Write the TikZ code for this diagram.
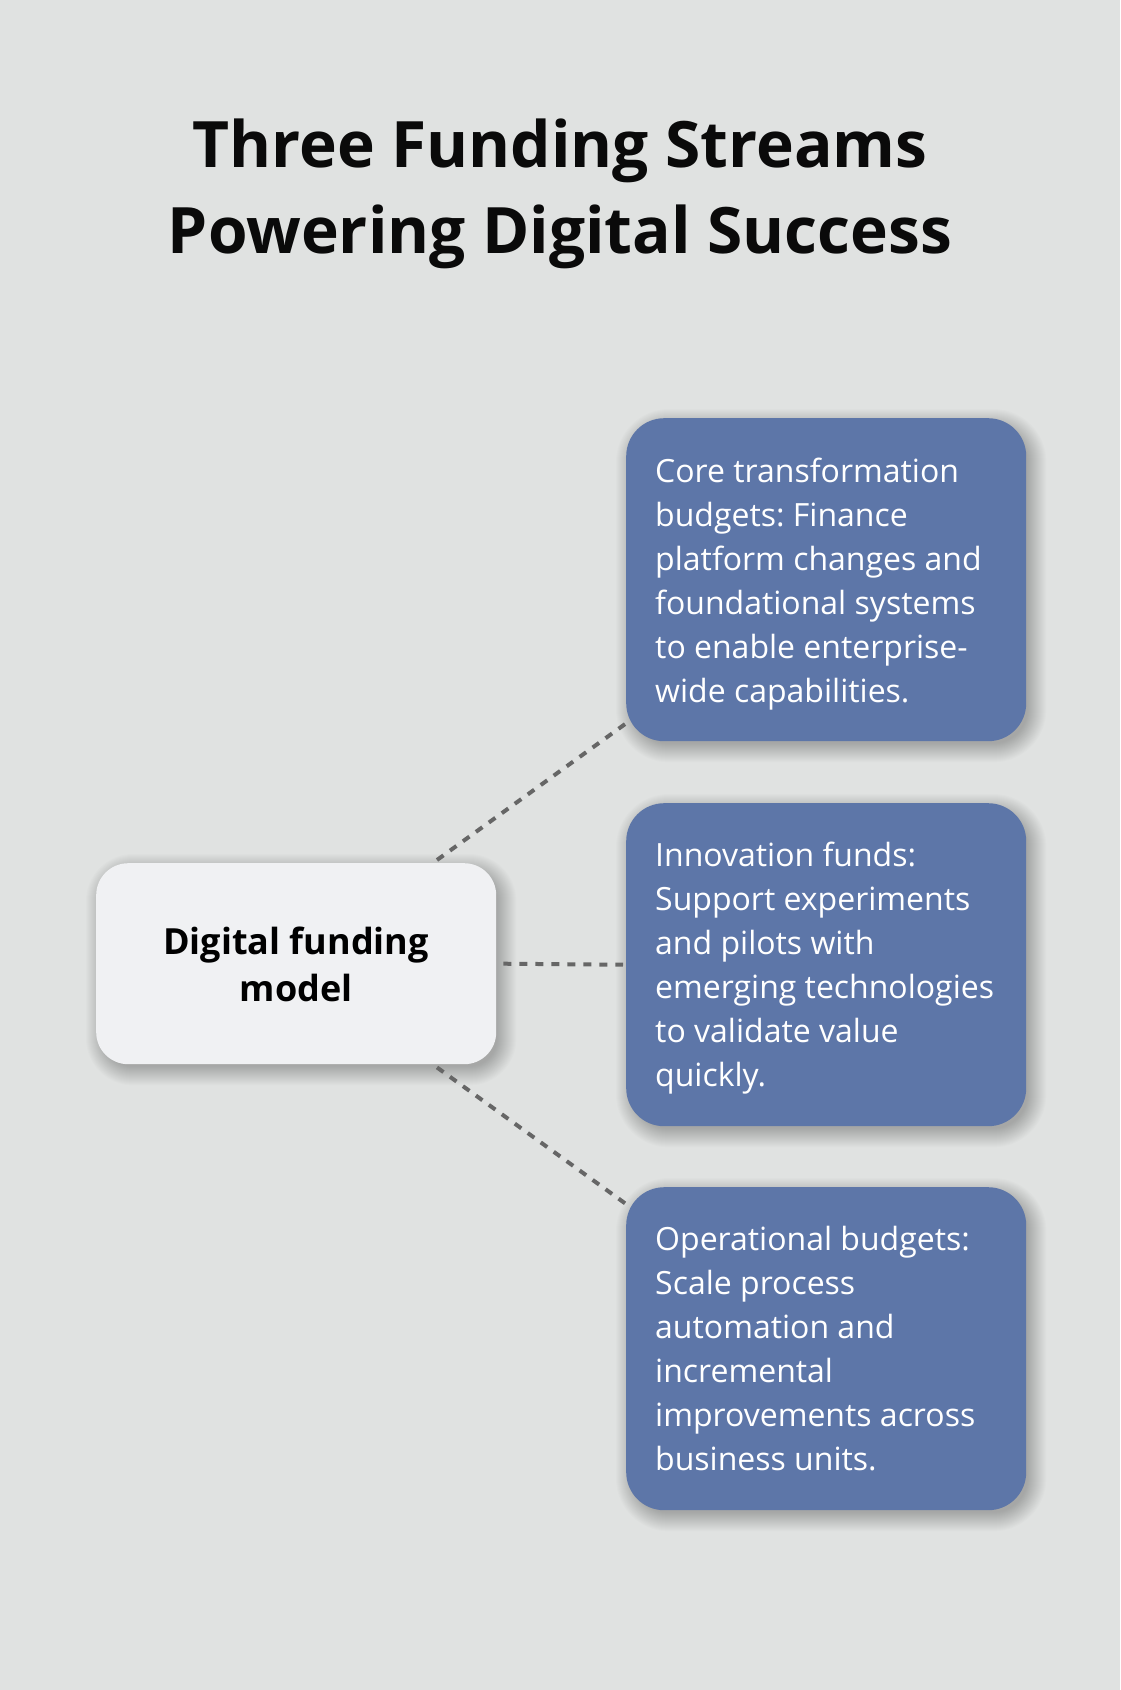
\documentclass[tikz,border=0pt]{standalone}
\usepackage{fontspec}
\setmainfont{Open Sans}
\frenchspacing
\definecolor{bg}{HTML}{E0E2E1}
\definecolor{boxblue}{HTML}{5D76A8}
\definecolor{hubfill}{HTML}{F0F1F3}
\definecolor{dashgray}{HTML}{666666}
\definecolor{titleblack}{HTML}{0A0A0A}
\pgfdeclarelayer{back}
\pgfdeclarelayer{background}
\pgfsetlayers{back,background,main}
\tikzset{
  bluebox/.style={fill=boxblue, rounded corners=38pt, minimum width=400pt, minimum height=323pt, inner sep=0pt, anchor=north west},
  hubbox/.style={fill=hubfill, rounded corners=32pt, minimum width=400pt, minimum height=201pt, inner sep=0pt, anchor=north west},
  boxtext/.style={text=white, font=\fontsize{32}{44}\selectfont, align=left, inner sep=0pt, anchor=west},
  hubtext/.style={text=black, font=\fontsize{36}{47}\selectfont\bfseries, align=center, inner sep=0pt},
  titletext/.style={text=titleblack, font=\fontsize{64}{86}\selectfont\bfseries, align=center, inner sep=0pt},
  dashlink/.style={draw=dashgray, line width=4pt, dash pattern=on 8pt off 8pt},
  shadowlayer/.style={fill=black, opacity=0.013}
}
\begin{document}
\begin{tikzpicture}[x=1pt,y=-1pt]
\begin{pgfonlayer}{back}
\fill[bg] (0,0) rectangle (1120,1690);
\end{pgfonlayer}
\useasboundingbox (0,0) rectangle (1120,1690);
\node[titletext] (title) at (560,194) {Three Funding Streams\\Powering Digital Success};
\node[bluebox] (b1) at (626,418) {};
\node[bluebox] (b2) at (626,803) {};
\node[bluebox] (b3) at (626,1187) {};
\node[hubbox] (hub) at (96,863) {};
\node[hubtext] (ht) at ([yshift=-1pt]hub.center) {Digital funding\\model};
\node[boxtext] (t1) at ([xshift=29pt,yshift=-4pt]b1.west) {Core transformation\\budgets: Finance\\platform changes and\\foundational systems\\to enable enterprise-\\wide capabilities.};
\node[boxtext] (t2) at ([xshift=29pt,yshift=-3pt]b2.west) {Innovation funds:\\Support experiments\\and pilots with\\emerging technologies\\to validate value\\quickly.};
\node[boxtext] (t3) at ([xshift=29pt,yshift=0pt]b3.west) {Operational budgets:\\Scale process\\automation and\\incremental\\improvements across\\business units.};
\begin{pgfonlayer}{background}
\foreach \n/\r in {b1/38,b2/38,b3/38,hub/32} {
  \foreach \k in {0,...,19} {
    \fill[shadowlayer, rounded corners=\r pt+\k pt-4pt]
      ([shift={(9-\k,10-\k)}]\n.north west) rectangle ([shift={(\k+1,\k+2)}]\n.south east);
  }
}
\end{pgfonlayer}
\draw[dashlink] ([xshift=341pt,yshift=3pt]hub.north west) -- ([yshift=18pt]b1.south west);
\draw[dashlink] ([xshift=7pt]hub.east) -- ([xshift=-3pt]b2.west);
\draw[dashlink] ([xshift=341pt,yshift=-3pt]hub.south west) -- ([yshift=-17pt]b3.north west);
\end{tikzpicture}
\end{document}
